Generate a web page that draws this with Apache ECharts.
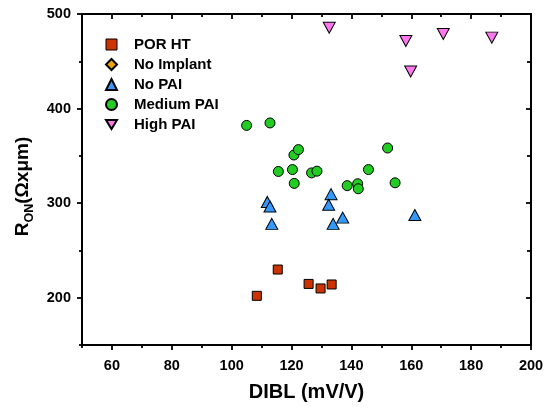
<!DOCTYPE html>
<html>
<head>
<meta charset="utf-8">
<script src="https://cdn.jsdelivr.net/npm/echarts@6/dist/echarts.min.js"></script>
<style>html,body{margin:0;padding:0;background:#fff;}#c{width:550px;height:407px;}</style>
</head>
<body>
<div id="c"></div>
<script>
// ---- data ----
const seriesNames = ['POR HT', 'No Implant', 'No PAI', 'Medium PAI', 'High PAI'];
const porX = [108.4, 115.4, 125.7, 129.7, 133.4];
const porY = [202, 229.8, 214.6, 209.8, 214];
const noImpX = [];
const noImpY = [];
const noPaiX = [111.9, 112.8, 113.4, 133.2, 132.4, 137.1, 133.9, 161.2];
const noPaiY = [301.3, 296.5, 278.1, 309.5, 298.3, 284.7, 278.1, 287.4];
const medX = [105, 112.8, 115.6, 120.3, 120.8, 122.3, 120.9, 126.7, 128.5, 138.6, 142.1, 142.3, 145.7, 152.1, 154.6];
const medY = [382.2, 384.8, 333.5, 335.5, 350.9, 356.6, 320.9, 332, 333.8, 318.5, 320.5, 315.2, 335.5, 358.3, 321.5];
const highX = [132.6, 158.2, 159.8, 170.7, 186.9];
const highY = [485.5, 471.5, 439.2, 478.9, 475];
const xMajor = [60, 80, 100, 120, 140, 160, 180, 200];
const xMinor = [50, 70, 90, 110, 130, 150, 170, 190];
const yMajor = [200, 300, 400, 500];
const yMinor = [150, 250, 350, 450];

const zip = (a, b) => a.map((v, i) => [v, b[i]]);
const FONT = '"Liberation Sans", Arial, sans-serif';
const lineStyle = {color: '#000', width: 2};

function xAx(pos, ticks, len, inside, labels, extra) {
  return Object.assign({
    type: 'value', position: pos, min: 50, max: 200,
    axisLine: {show: true, onZero: false, lineStyle},
    axisTick: {show: true, inside, length: len, customValues: ticks, lineStyle: {color: '#000', width: 1.8}},
    axisLabel: labels ? {show: true, customValues: ticks, color: '#000', fontWeight: 'bold', fontSize: 14.5, fontFamily: FONT, margin: 13} : {show: false},
    splitLine: {show: false}
  }, extra || {});
}
function yAx(pos, ticks, len, inside, labels, extra) {
  return Object.assign({
    type: 'value', position: pos, min: 150, max: 500,
    axisLine: {show: true, onZero: false, lineStyle},
    axisTick: {show: true, inside, length: len, customValues: ticks, lineStyle: {color: '#000', width: 1.8}},
    axisLabel: labels ? {show: true, customValues: ticks, color: '#000', fontWeight: 'bold', fontSize: 14.5, fontFamily: FONT, margin: 11} : {show: false},
    splitLine: {show: false}
  }, extra || {});
}

const chart = echarts.init(document.getElementById('c'), null, {renderer: 'canvas'});
const border = {borderColor: '#000', borderWidth: 1, opacity: 1};
chart.setOption({
  animation: false,
  backgroundColor: '#fff',
  grid: {left: 82, right: 19, top: 14, bottom: 61, containLabel: false},
  legend: {
    orient: 'vertical', left: 105, top: 37, padding: 0, itemGap: 5,
    itemWidth: 11, itemHeight: 11,
    textStyle: {color: '#000', fontWeight: 'bold', fontSize: 15, fontFamily: FONT, padding: [0, 0, 0, 12]},
    data: [
      {name: seriesNames[0], icon: 'path://M0,0L9,0L9,9L0,9Z', itemStyle: {borderColor: '#000', borderWidth: 1}},
      {name: seriesNames[1], icon: 'diamond'},
      {name: seriesNames[2], icon: 'triangle'},
      {name: seriesNames[3], icon: 'circle'},
      {name: seriesNames[4], icon: 'path://M0,0L12,0L6,10Z'}
    ]
  },
  xAxis: [
    xAx('bottom', xMajor, 5, false, true, {
      name: 'DIBL (mV/V)', nameLocation: 'middle', nameGap: 37,
      nameTextStyle: {color: '#000', fontWeight: 'bold', fontSize: 20, fontFamily: FONT}
    }),
    xAx('bottom', xMinor, 3, false, false),
    xAx('top', xMajor, 5, true, false),
    xAx('top', xMinor, 3, true, false)
  ],
  yAxis: [
    yAx('left', yMajor, 5, false, true, {
      name: '{a|R}{b|ON}{c|(Ωxμm)}', nameLocation: 'middle', nameGap: 49, nameRotate: 90,
      nameTextStyle: {
        rich: {
          a: {color: '#000', fontWeight: 'bold', fontSize: 19, fontFamily: FONT, lineHeight: 24, verticalAlign: 'bottom'},
          b: {color: '#000', fontWeight: 'bold', fontSize: 12.5, fontFamily: FONT, lineHeight: 24, verticalAlign: 'bottom', padding: [0, 0, -4, 0]},
          c: {color: '#000', fontWeight: 'bold', fontSize: 19, fontFamily: FONT, lineHeight: 24, verticalAlign: 'bottom', padding: [0, 14, 0, 0]}
        }
      }
    }),
    yAx('left', yMinor, 3, false, false),
    yAx('right', yMajor, 5, true, false),
    yAx('right', yMinor, 4, true, false)
  ],
  series: [
    {name: 'POR HT', type: 'scatter', symbol: 'rect', symbolSize: 9, data: zip(porX, porY),
     itemStyle: Object.assign({color: '#cc3300'}, border)},
    {name: 'No Implant', type: 'scatter', symbol: 'diamond', symbolSize: 11, data: zip(noImpX, noImpY),
     itemStyle: Object.assign({color: '#f0a30a'}, border)},
    {name: 'No PAI', type: 'scatter', symbol: 'triangle', symbolSize: [12, 11], data: zip(noPaiX, noPaiY),
     itemStyle: Object.assign({color: '#3399ff'}, border)},
    {name: 'Medium PAI', type: 'scatter', symbol: 'circle', symbolSize: 10, data: zip(medX, medY),
     itemStyle: Object.assign({color: '#22cc22'}, border)},
    {name: 'High PAI', type: 'scatter', symbol: 'triangle', symbolRotate: 180, symbolSize: [12, 11], data: zip(highX, highY),
     itemStyle: Object.assign({color: '#ff77ee'}, border)}
  ]
});
</script>
</body>
</html>
